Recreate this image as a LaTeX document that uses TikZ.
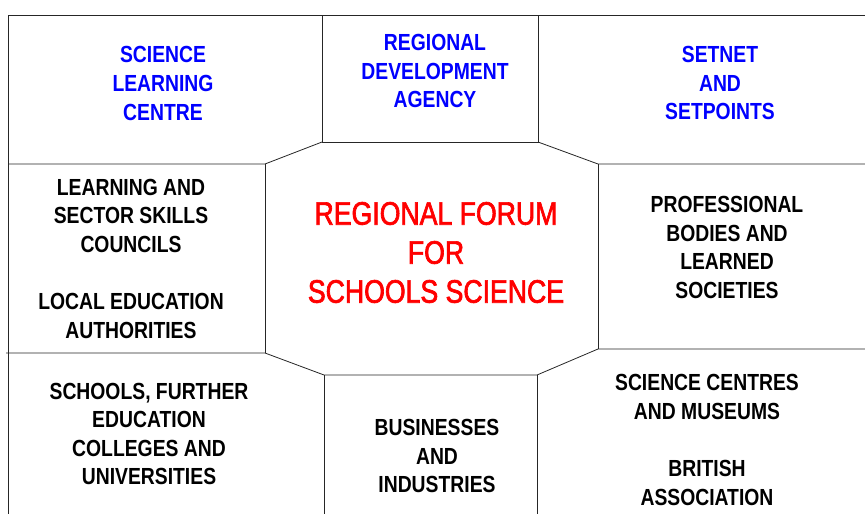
\documentclass[tikz,border=0pt]{standalone}
\usepackage{fontspec}
\setmainfont{Liberation Sans}
\newfontfamily\boxfont{Liberation Sans Bold}[FakeStretch=0.83]
\newfontfamily\forumfont{Liberation Sans}[FakeStretch=0.82,FakeBold=2]
\definecolor{orgblue}{RGB}{0,0,255}
\definecolor{forumred}{RGB}{255,0,0}
\tikzset{
  frame/.style={line width=0.8pt, draw=black!85},
  orgtext/.style={align=center, inner sep=0pt, font=\boxfont\fontsize{23.3}{28.6}\selectfont},
  bluetext/.style={orgtext, text=orgblue},
  blacktext/.style={orgtext, text=black},
  forumtext/.style={align=center, inner sep=0pt, text=forumred, font=\forumfont\fontsize{32.5}{39}\selectfont}
}
\begin{document}
\begin{tikzpicture}[x=1pt,y=-1pt]
\useasboundingbox (0,0) rectangle (865,514);
% frame vertices
\coordinate (tl) at (8,15);
\coordinate (tr) at (865,15);
\coordinate (bl) at (8,514);
\coordinate (tc1) at (322,15);
\coordinate (tc2) at (538,15);
\coordinate (c1) at (322,142);
\coordinate (c2) at (538,142);
\coordinate (m1) at (265,164);
\coordinate (m2) at (598,164);
\coordinate (l1) at (8,164);
\coordinate (r1) at (865,164);
\coordinate (m3) at (265,353);
\coordinate (m4) at (598,349);
\coordinate (l2) at (6,353);
\coordinate (r2) at (865,349);
\coordinate (b1) at (324,375);
\coordinate (b2) at (537,375);
\coordinate (b1d) at (324,514);
\coordinate (b2d) at (537,514);
% lines
\draw[frame] (tl) -- (tr);
\draw[frame] (tl) -- (bl);
\draw[frame] (tc1) -- (c1) -- (c2) -- (tc2);
\draw[frame] (l1) -- (m1) -- (c1);
\draw[frame] (c2) -- (m2) -- (r1);
\draw[frame] (m1) -- (m3);
\draw[frame] (m2) -- (m4);
\draw[frame] (l2) -- (m3) -- (b1) -- (b2) -- (m4) -- (r2);
\draw[frame] (b1) -- (b1d);
\draw[frame] (b2) -- (b2d);
% texts
\node[bluetext] (slc) at (163,83.5) {SCIENCE\\LEARNING\\CENTRE};
\node[bluetext] (rda) at (435,71) {REGIONAL\\DEVELOPMENT\\AGENCY};
\node[bluetext] (set) at (720,83) {SETNET\\AND\\SETPOINTS};
\node[blacktext] (lsc) at (131,258.5) {LEARNING AND\\SECTOR SKILLS\\COUNCILS\\[28.6pt]LOCAL EDUCATION\\AUTHORITIES};
\node[forumtext] (forum) at (436,252.5) {REGIONAL FORUM\\FOR\\SCHOOLS SCIENCE};
\node[blacktext] (prof) at (727,247.5) {PROFESSIONAL\\BODIES AND\\LEARNED\\SOCIETIES};
\node[blacktext] (sch) at (149,434) {SCHOOLS, FURTHER\\EDUCATION\\COLLEGES AND\\UNIVERSITIES};
\node[blacktext] (bus) at (437,456) {BUSINESSES\\AND\\INDUSTRIES};
\node[blacktext] (scm) at (707,440) {SCIENCE CENTRES\\AND MUSEUMS\\[28.6pt]BRITISH\\ASSOCIATION};
\end{tikzpicture}
\end{document}
